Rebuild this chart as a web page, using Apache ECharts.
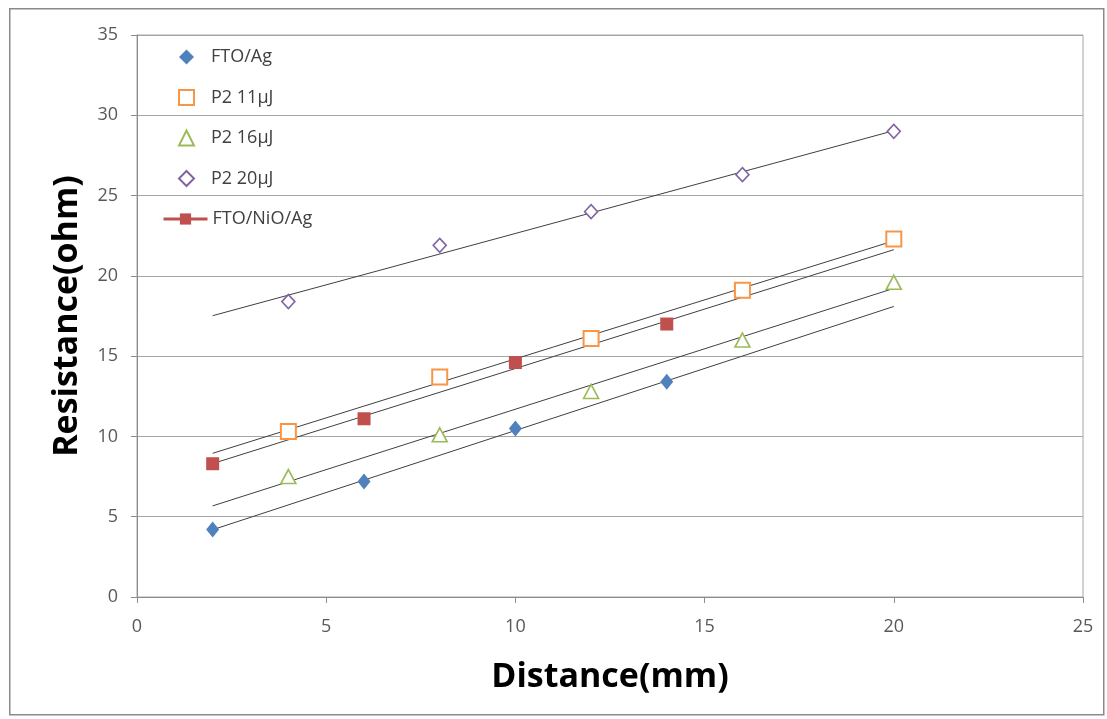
<!DOCTYPE html>
<html>
<head>
<meta charset="utf-8">
<script src="https://cdn.jsdelivr.net/npm/echarts@6/dist/echarts.min.js"></script>
<style>
html,body{margin:0;padding:0;background:#fff;}
#chart{width:1107px;height:719px;}
</style>
</head>
<body>
<div id="chart"></div>
<script>
// ---- data ----
const xTicks = [0, 5, 10, 15, 20, 25];
const yTicks = [0, 5, 10, 15, 20, 25, 30, 35];

const ftoAgX = [2, 6, 10, 14];
const ftoAgY = [4.2, 7.2, 10.5, 13.4];

const p2_11X = [4, 8, 12, 16, 20];
const p2_11Y = [10.3, 13.7, 16.1, 19.1, 22.3];

const p2_16X = [4, 8, 12, 16, 20];
const p2_16Y = [7.5, 10.1, 12.8, 16.0, 19.6];

const p2_20X = [4, 8, 12, 16, 20];
const p2_20Y = [18.4, 21.9, 24.0, 26.3, 29.0];

const ftoNiOAgX = [2, 6, 10, 14];
const ftoNiOAgY = [8.3, 11.1, 14.6, 17.0];

const trendRange = [2, 20];

const seriesNames = ['FTO/Ag', 'P2 11\u00b5J', 'P2 16\u00b5J', 'P2 20\u00b5J', 'FTO/NiO/Ag'];

// ---- helpers ----
function pairs(xs, ys) { return xs.map((x, i) => [x, ys[i]]); }
function linfit(xs, ys) {
  const n = xs.length;
  const mx = xs.reduce((a, b) => a + b, 0) / n;
  const my = ys.reduce((a, b) => a + b, 0) / n;
  let sxy = 0, sxx = 0;
  for (let i = 0; i < n; i++) { sxy += (xs[i] - mx) * (ys[i] - my); sxx += (xs[i] - mx) ** 2; }
  const b = sxy / sxx, a = my - b * mx;
  return trendRange.map(x => [x, a + b * x]);
}
function trend(xs, ys) {
  return {
    type: 'line', data: linfit(xs, ys), symbol: 'none', silent: true,
    lineStyle: { color: '#3f3f3f', width: 1 }, z: 1
  };
}

const openDiamond = 'path://M0,-1 L1,0 L0,1 L-1,0 Z';
const FONT = 'Open Sans';
const legendText = { fontFamily: FONT, fontSize: 18, color: '#404040', lineHeight: 20, padding: [0, 0, 0, 12] };

const option = {
  animation: false,
  backgroundColor: '#ffffff',
  grid: {
    left: 137, top: 35, width: 946, height: 562,
    show: true, borderColor: '#a6a6a6', borderWidth: 1, backgroundColor: 'transparent'
  },
  xAxis: {
    type: 'value', min: 0, max: 25, interval: 5,
    name: 'Distance(mm)', nameLocation: 'middle', nameGap: 63,
    nameTextStyle: { fontFamily: FONT, fontWeight: 'bold', fontSize: 34, color: '#000' },
    axisLine: { show: true, onZero: false, lineStyle: { color: '#8c8c8c', width: 1 } },
    axisTick: { show: true, inside: false, length: 6, lineStyle: { color: '#8c8c8c' } },
    axisLabel: { margin: 21, fontFamily: FONT, fontSize: 18, color: '#595959' },
    splitLine: { show: false }
  },
  yAxis: {
    type: 'value', min: 0, max: 35, interval: 5,
    name: 'Resistance(ohm)', nameLocation: 'middle', nameGap: 53, nameRotate: 90,
    nameTextStyle: { fontFamily: FONT, fontWeight: 'bold', fontSize: 34, color: '#000' },
    axisLine: { show: true, onZero: false, lineStyle: { color: '#8c8c8c', width: 1 } },
    axisTick: { show: true, inside: false, length: 6, lineStyle: { color: '#8c8c8c' } },
    axisLabel: { margin: 19, fontFamily: FONT, fontSize: 18, color: '#595959' },
    splitLine: { show: true, lineStyle: { color: '#a6a6a6', width: 1 } }
  },
  legend: [
    {
      orient: 'vertical', left: 178, top: 47, itemGap: 20.5, padding: 0,
      itemWidth: 15, itemHeight: 15,
      textStyle: legendText,
      data: seriesNames.slice(0, 4)
    },
    {
      orient: 'vertical', left: 162, top: 209, itemGap: 20, padding: 0,
      itemWidth: 44, itemHeight: 14,
      textStyle: Object.assign({}, legendText, { padding: [0, 0, 0, 0] }),
      data: [{ name: seriesNames[4], lineStyle: { width: 3, color: '#c0504d', opacity: 1 } }]
    }
  ],
  series: [
    trend(ftoAgX, ftoAgY),
    trend(p2_11X, p2_11Y),
    trend(p2_16X, p2_16Y),
    trend(p2_20X, p2_20Y),
    trend(ftoNiOAgX, ftoNiOAgY),
    {
      name: seriesNames[0], type: 'scatter', data: pairs(ftoAgX, ftoAgY),
      symbol: 'diamond', symbolSize: [13, 16],
      itemStyle: { color: '#4f81bd', opacity: 1 }, z: 3
    },
    {
      name: seriesNames[1], type: 'scatter', data: pairs(p2_11X, p2_11Y),
      symbol: 'rect', symbolSize: 15,
      itemStyle: { color: '#ffffff', borderColor: '#f79646', borderWidth: 2, opacity: 1 }, z: 3
    },
    {
      name: seriesNames[2], type: 'scatter', data: pairs(p2_16X, p2_16Y),
      symbol: 'triangle', symbolSize: [15, 14],
      itemStyle: { color: '#ffffff', borderColor: '#9bbb59', borderWidth: 1.6, opacity: 1 }, z: 3
    },
    {
      name: seriesNames[3], type: 'scatter', data: pairs(p2_20X, p2_20Y),
      symbol: openDiamond, symbolSize: [13, 14],
      itemStyle: { color: '#ffffff', borderColor: '#8064a2', borderWidth: 1.6, opacity: 1 }, z: 3
    },
    {
      name: seriesNames[4], type: 'line', data: pairs(ftoNiOAgX, ftoNiOAgY),
      symbol: 'rect', symbolSize: 13, showSymbol: true,
      lineStyle: { width: 0, opacity: 0, color: '#c0504d' },
      itemStyle: { color: '#c0504d', opacity: 1 }, z: 3
    }
  ],
  graphic: [
    {
      type: 'rect', left: 9, top: 8, z: -10, silent: true,
      shape: { width: 1094, height: 706 },
      style: { fill: 'transparent', stroke: '#8a8a8a', lineWidth: 1.5 }
    }
  ]
};

const chart = echarts.init(document.getElementById('chart'), null, { renderer: 'canvas' });
chart.setOption(option);
</script>
</body>
</html>
